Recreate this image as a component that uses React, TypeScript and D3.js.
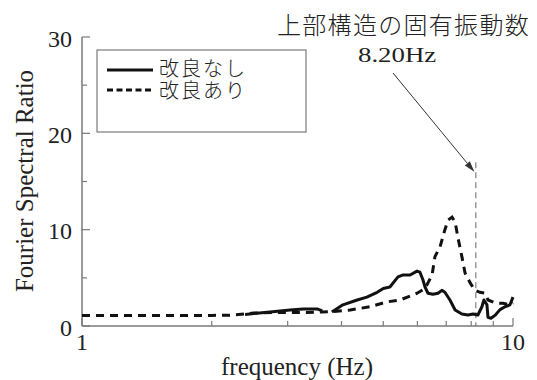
import React from 'react';
import * as d3 from 'd3';

const yTicks = [0, 10, 20, 30];
const yMinorTicks = [5, 15, 25];
const xMajorTicks = [1, 10];
const xMinorTicks = [2, 3, 4, 5, 6, 7, 8, 9];
const seriesNames = ['改良なし', '改良あり'];

const solidFreq = [2.39, 2.45, 2.73, 3.04, 3.26, 3.51, 3.61, 3.7, 3.8, 4.03, 4.35, 4.58, 4.84, 5.0, 5.18, 5.41, 5.56, 5.77, 5.99, 6.08, 6.18, 6.25, 6.35, 6.52, 6.7, 6.84, 6.95, 7.14, 7.34, 7.61, 7.86, 8.08, 8.29, 8.47, 8.56, 8.7, 8.75, 8.89, 9.08, 9.33, 9.58, 9.84, 10];
const solidRatio: (number | null)[] = [1.2, 1.25, 1.45, 1.66, 1.77, 1.77, 1.56, null, 1.45, 2.2, 2.7, 3.0, 3.5, 3.9, 4.05, 5.1, 5.3, 5.3, 5.7, 5.6, 4.8, 4.05, 3.4, 3.3, 3.4, 3.7, 3.5, 2.7, 1.66, 1.25, 1.14, 1.25, 1.14, 2.0, 2.7, 2.2, 0.9, 0.8, 1.1, 1.7, 2.0, 2.2, 3.0];

const dashedFreq = [1, 1.5, 2.0, 2.2, 2.39, 2.5, 2.8, 3.2, 3.6, 3.8, 4.19, 4.66, 5.1, 5.47, 5.99, 6.25, 6.49, 6.59, 6.77, 6.95, 7.07, 7.22, 7.34, 7.45, 7.61, 7.74, 7.95, 8.16, 8.38, 8.61, 8.75, 9.08, 9.48, 9.84, 10];
const dashedRatio = [1.1, 1.1, 1.1, 1.12, 1.25, 1.35, 1.4, 1.4, 1.45, 1.5, 1.66, 2.0, 2.5, 2.7, 3.4, 3.9, 5.3, 7.2, 8.2, 10.0, 11.0, 11.3, 10.8, 9.2, 7.2, 5.5, 4.5, 3.7, 3.5, 3.4, 2.7, 2.4, 2.35, 2.2, 2.4];

const naturalFreq = 8.2;
const naturalLineTop = 17;
const arrowTipValue = 16;
const annotationTitle = '上部構造の固有振動数';
const annotationValue = '8.20Hz';
const xLabel = 'frequency (Hz)';
const yLabel = 'Fourier Spectral Ratio';

const serif = '"Liberation Serif", "Times New Roman", serif';
const cjk = '"Noto Sans CJK JP", sans-serif';
const axisColor = '#7a7a7a';
const ink = '#111';

export default function App() {
  const x = d3.scaleLog().domain([1, 10]).range([82, 513]);
  const y = d3.scaleLinear().domain([0, 30]).range([326, 37]);

  const solidData = solidFreq.map((f, i) => ({ f, v: solidRatio[i] }));
  const dashedData = dashedFreq.map((f, i) => ({ f, v: dashedRatio[i] as number | null }));

  const line = d3
    .line<{ f: number; v: number | null }>()
    .defined((d) => d.v != null)
    .x((d) => x(d.f))
    .y((d) => y(d.v as number));

  const x0 = x.range()[0];
  const x1 = x.range()[1];
  const yb = y(0);

  // arrow
  const ax0 = 393;
  const ay0 = 73;
  const ax1 = x(naturalFreq) - 1.5;
  const ay1 = y(arrowTipValue);
  const ang = Math.atan2(ay1 - ay0, ax1 - ax0);
  const hl = 11;
  const hw = 3.2;
  const bx = ax1 - hl * Math.cos(ang);
  const by = ay1 - hl * Math.sin(ang);
  const px = -Math.sin(ang) * hw;
  const py = Math.cos(ang) * hw;
  const head = `${ax1},${ay1} ${bx + px},${by + py} ${bx - px},${by - py}`;

  return (
    <svg width={537} height={380} style={{ position: 'absolute', left: 0, top: 0, background: '#fff' }}>
      {/* axes */}
      <line x1={x0} x2={x0} y1={yb} y2={y(30)} stroke={axisColor} strokeWidth={1.5} />
      <line x1={x0} x2={x1} y1={yb} y2={yb} stroke={axisColor} strokeWidth={1.5} />
      {yTicks.map((t) => (
        <g key={'yt' + t}>
          <line x1={x0} x2={x0 + 8} y1={y(t)} y2={y(t)} stroke={axisColor} strokeWidth={1.2} />
          <text x={72} y={y(t) + 9.5} textAnchor="end" fontFamily={serif} fontSize={24} fill="#222">
            {t}
          </text>
        </g>
      ))}
      {yMinorTicks.map((t) => (
        <line key={'ym' + t} x1={x0} x2={x0 + 5} y1={y(t)} y2={y(t)} stroke={axisColor} strokeWidth={1.2} />
      ))}
      {xMinorTicks.map((t) => (
        <line key={'xm' + t} x1={x(t)} x2={x(t)} y1={yb} y2={yb - 5} stroke={axisColor} strokeWidth={1.2} />
      ))}
      {xMajorTicks.map((t) => (
        <g key={'xt' + t}>
          <line x1={x(t)} x2={x(t)} y1={yb} y2={yb - 8} stroke={axisColor} strokeWidth={1.2} />
          <text x={x(t)} y={350} textAnchor="middle" fontFamily={serif} fontSize={24} fill="#222">
            {t}
          </text>
        </g>
      ))}

      {/* axis labels */}
      <text x={297} y={375} textAnchor="middle" fontFamily={serif} fontSize={25} fill="#222">
        {xLabel}
      </text>
      <text
        transform={`translate(33,181) rotate(-90)`}
        textAnchor="middle"
        fontFamily={serif}
        fontSize={25}
        fill="#222"
      >
        {yLabel}
      </text>

      {/* natural frequency marker */}
      <line
        x1={x(naturalFreq)}
        x2={x(naturalFreq)}
        y1={y(naturalLineTop)}
        y2={yb}
        stroke="#666"
        strokeWidth={1}
        strokeDasharray="6,4"
      />

      {/* curves */}
      <path d={line(dashedData) || ''} fill="none" stroke={ink} strokeWidth={3} strokeDasharray="8,6" />
      <path d={line(solidData) || ''} fill="none" stroke={ink} strokeWidth={3} strokeLinejoin="round" />

      {/* annotation */}
      <text x={277} y={34} fontFamily={cjk} fontSize={24} fontWeight={300} letterSpacing={1.3} fill="#222">
        {annotationTitle}
      </text>
      <g transform="translate(358,62) scale(1.22,1)">
        <text x={0} y={0} fontFamily={serif} fontSize={22} fill="#222">
          {annotationValue}
        </text>
      </g>
      <line x1={ax0} y1={ay0} x2={bx} y2={by} stroke="#333" strokeWidth={1} />
      <polygon points={head} fill="#333" />

      {/* legend */}
      <rect x={97} y={50} width={209} height={82} fill="#fff" stroke={axisColor} strokeWidth={1.2} />
      <line x1={107} x2={153} y1={70} y2={70} stroke={ink} strokeWidth={3} />
      <line x1={107} x2={153} y1={90} y2={90} stroke={ink} strokeWidth={3} strokeDasharray="6,3.5" />
      <text x={159} y={76} fontFamily={cjk} fontSize={20} fontWeight={300} letterSpacing={2} fill="#222">
        {seriesNames[0]}
      </text>
      <text x={159} y={98} fontFamily={cjk} fontSize={20} fontWeight={300} letterSpacing={2} fill="#222">
        {seriesNames[1]}
      </text>
    </svg>
  );
}
